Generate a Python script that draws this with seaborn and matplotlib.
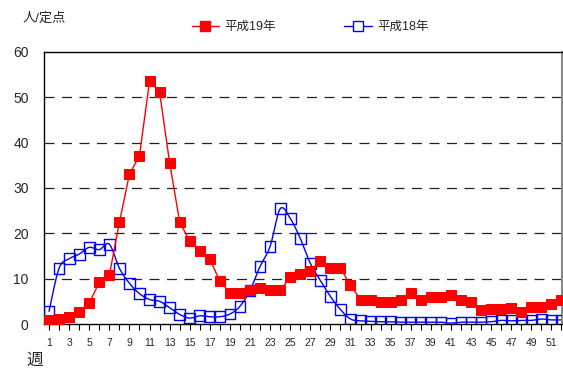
import numpy as np
import pandas as pd
import matplotlib
matplotlib.use("Agg")
import matplotlib.pyplot as plt
from matplotlib.lines import Line2D
from matplotlib.ticker import MultipleLocator
import seaborn as sns

# Weekly reports per sentinel site
weeks = list(range(1, 53))
h19 = [0.8, 1.0, 1.5, 2.7, 4.6, 9.2, 10.7, 22.4, 33.0, 37.1,
       53.5, 51.2, 35.6, 22.5, 18.3, 16.1, 14.3, 9.5, 6.9, 6.9,
       7.4, 8.0, 7.6, 7.4, 10.3, 11.1, 11.8, 13.9, 12.4, 12.4,
       8.5, 5.4, 5.2, 4.8, 4.8, 5.4, 6.9, 5.4, 5.9, 5.9,
       6.3, 5.2, 4.9, 3.0, 3.3, 3.3, 3.5, 2.7, 3.7, 3.7,
       4.4, 5.4]
h18 = [2.8, 12.3, 14.4, 15.4, 16.9, 16.4, 17.6, 12.3, 9.0, 6.7,
       5.4, 5.0, 3.6, 2.1, 1.3, 1.8, 1.6, 1.6, 2.2, 3.9,
       7.4, 12.7, 17.1, 25.4, 23.3, 18.9, 13.4, 9.6, 6.1, 3.2,
       1.1, 0.7, 0.6, 0.5, 0.5, 0.4, 0.4, 0.4, 0.4, 0.4,
       0.2, 0.4, 0.4, 0.4, 0.5, 0.8, 0.7, 0.8, 0.8, 1.1,
       0.9, 0.9]
label19 = "平成19年"
label18 = "平成18年"
y_unit = "人/定点"
x_unit = "週"

sns.set_theme(style="white")
plt.rcParams["font.family"] = ["Liberation Sans", "Noto Sans CJK JP"]

df = pd.DataFrame({"week": weeks, label19: h19, label18: h18})


def smooth(x, y, n=12):
    """Catmull-Rom curve through the points, for a smoothed line."""
    x = np.asarray(x, float)
    y = np.asarray(y, float)
    px = np.concatenate([[x[0]], x, [x[-1]]])
    py = np.concatenate([[y[0]], y, [y[-1]]])
    xs, ys = [], []
    t = np.linspace(0, 1, n, endpoint=False)
    for i in range(1, len(px) - 2):
        for p, out in ((px, xs), (py, ys)):
            p0, p1, p2, p3 = p[i - 1], p[i], p[i + 1], p[i + 2]
            out.extend(0.5 * ((2 * p1) + (-p0 + p2) * t
                              + (2 * p0 - 5 * p1 + 4 * p2 - p3) * t ** 2
                              + (-p0 + 3 * p1 - 3 * p2 + p3) * t ** 3))
    xs.append(x[-1])
    ys.append(y[-1])
    return pd.DataFrame({"week": xs, "value": ys})


fig = plt.figure(figsize=(5.63, 3.70), dpi=100)
ax = fig.add_axes([44 / 563, 46 / 370, 518 / 563, 272 / 370])

red = "#FF0000"
blue = "#0000FF"

# 平成18年: smoothed line with open squares
curve = smooth(df["week"], df[label18])
sns.lineplot(data=curve, x="week", y="value", ax=ax, color=blue, lw=1.0,
             estimator=None, sort=False)
sns.scatterplot(data=df, x="week", y=label18, ax=ax, marker="s", s=60,
                facecolor="none", edgecolor=blue, linewidth=1.0, zorder=3)

# 平成19年: straight line with filled squares
sns.lineplot(data=df, x="week", y=label19, ax=ax, color=red, lw=1.0,
             marker="s", markersize=7.5, markerfacecolor=red,
             markeredgecolor=red, zorder=4)

ax.set_xlim(0.5, 52.05)
ax.set_ylim(0, 60)
ax.set_xlabel("")
ax.set_ylabel("")

ax.xaxis.set_major_locator(MultipleLocator(2, offset=1))
ax.xaxis.set_minor_locator(MultipleLocator(1))
ax.set_yticks(range(0, 61, 10))
ax.tick_params(axis="x", which="both", direction="out", bottom=True,
               length=4, width=0.8, color="black", pad=6, labelsize=7.5)
ax.tick_params(axis="y", length=0, pad=11, labelsize=10)

for y in range(10, 60, 10):
    ax.axhline(y, color="#222222", lw=0.9, ls=(0, (8, 6)), zorder=1)

for side in ("left", "bottom", "top"):
    ax.spines[side].set_color("black")
    ax.spines[side].set_linewidth(1.0)
ax.spines["right"].set_color("#888888")
ax.spines["right"].set_linewidth(1.5)

handles = [
    Line2D([], [], color=red, lw=1.0, marker="s", markersize=7.5,
           markerfacecolor=red, markeredgecolor=red),
    Line2D([], [], color=blue, lw=1.0, marker="s", markersize=7,
           markerfacecolor="white", markeredgecolor=blue),
]
fig.legend(handles, [label19, label18], loc="center",
           bbox_to_anchor=(310 / 563, 1 - 27 / 370), ncol=2, frameon=False,
           fontsize=9, handlelength=2.2, handletextpad=0.4, columnspacing=5.5)

fig.text(23 / 563, 1 - 19 / 370, y_unit, fontsize=9.5, ha="left", va="center")
fig.text(26 / 563, 1 - 360 / 370, x_unit, fontsize=12, ha="left", va="center")

fig.savefig("out.png", dpi=100)
